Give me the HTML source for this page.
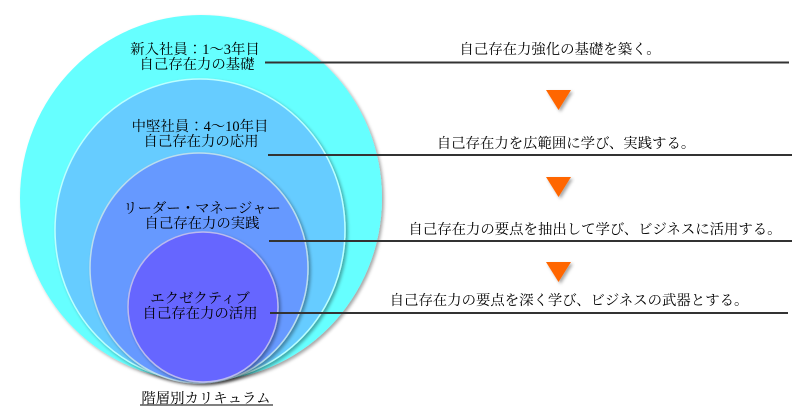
<!DOCTYPE html>
<html><head><meta charset="utf-8"><style>
html,body{margin:0;padding:0;background:#fff;}
svg text{font-family:"Liberation Serif","Noto Serif CJK JP","Noto Serif CJK SC",serif;font-size:14.4px;fill:#000;}
</style></head><body>
<svg width="800" height="410" viewBox="0 0 800 410" xmlns="http://www.w3.org/2000/svg">
<defs>
<filter id="sh" x="-10%" y="-10%" width="125%" height="125%"><feDropShadow dx="2" dy="2" stdDeviation="1.5" flood-color="#000" flood-opacity="0.35"/></filter>
</defs>
<ellipse cx="201" cy="198" rx="181" ry="183" fill="#66ffff" filter="url(#sh)"/>
<ellipse cx="200" cy="230" rx="145" ry="151" fill="#66ccff" stroke="#bff" stroke-width="1.5" filter="url(#sh)"/>
<ellipse cx="199" cy="268" rx="109" ry="115" fill="#6699ff" stroke="#bde" stroke-width="1.5" filter="url(#sh)"/>
<ellipse cx="203" cy="307" rx="75" ry="75" fill="#6666ff" stroke="#bbe" stroke-width="1.5" filter="url(#sh)"/>
<g text-anchor="middle">
<text x="195" y="54">新入社員：1～3年目</text>
<text x="197" y="69">自己存在力の基礎</text>
<text x="200" y="131">中堅社員：4～10年目</text>
<text x="201" y="146">自己存在力の応用</text>
<text x="202" y="213">リーダー・マネージャー</text>
<text x="202" y="228">自己存在力の実践</text>
<text x="200" y="303">エクゼクティブ</text>
<text x="200" y="318">自己存在力の活用</text>
<text x="206" y="403">階層別カリキュラム</text>
</g>
<line x1="140" y1="405" x2="273" y2="405" stroke="#000" stroke-width="1"/>
<g stroke="#333" stroke-width="2">
<line x1="265" y1="62.5" x2="789" y2="62.5"/>
<line x1="268" y1="155" x2="792" y2="155"/>
<line x1="269" y1="241" x2="792" y2="241"/>
<line x1="270" y1="313" x2="788" y2="313"/>
</g>
<g text-anchor="middle">
<text x="560" y="54">自己存在力強化の基礎を築く。</text>
<text x="566" y="148">自己存在力を広範囲に学び、実践する。</text>
<text x="595" y="234">自己存在力の要点を抽出して学び、ビジネスに活用する。</text>
<text x="569" y="305">自己存在力の要点を深く学び、ビジネスの武器とする。</text>
</g>
<g fill="#ff6600" filter="url(#sh)">
<polygon points="546,90 571,90 558.5,110"/>
<polygon points="546,177 571,177 558.5,197"/>
<polygon points="546,262 571,262 558.5,282"/>
</g>
</svg>
</body></html>
